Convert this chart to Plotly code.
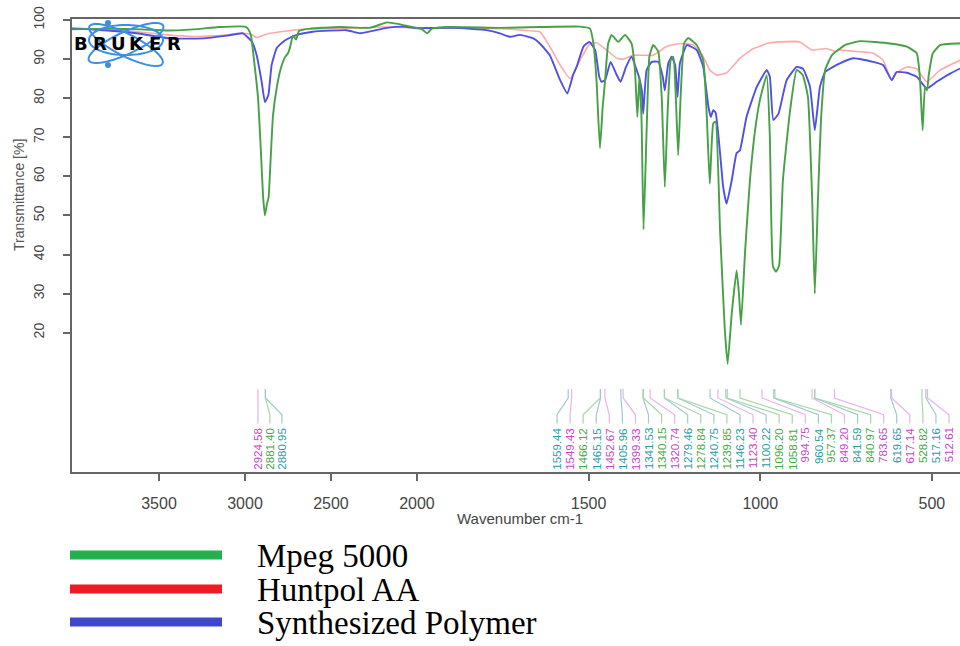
import numpy as np
import plotly.graph_objects as go

# ---------------- data ----------------
mpeg_wn = [4006, 3800, 3600, 3450, 3300, 3150, 3000, 2983, 2965, 2948,
           2924, 2907, 2895, 2884, 2872, 2863, 2849, 2837, 2814, 2791,
           2767, 2750, 2738, 2721, 2703, 2686, 2622, 2448, 2273, 2174,
           2110, 2070, 2000,
           1985, 1971, 1956, 1904, 1758, 1642, 1525, 1496, 1486, 1477,
           1467, 1459, 1452, 1443, 1433, 1414, 1394, 1375, 1365, 1358,
           1352, 1346, 1340, 1331, 1323, 1312, 1297, 1287, 1278, 1270,
           1261, 1253, 1246, 1239, 1232, 1222, 1210, 1185, 1166, 1156,
           1147, 1137, 1130, 1117, 1103, 1095, 1083, 1069, 1062, 1056,
           1044, 1030, 1015, 1001, 981, 972, 963, 954, 945, 934,
           913, 894, 876, 861, 849, 841, 832, 823, 811, 791,
           753, 710, 622, 573, 544, 535, 527, 520, 514, 509,
           497, 476, 427, 418]
mpeg_t = [97.6, 97.8, 97.6, 97.3, 97.6, 98.2, 98.3, 97.8, 96, 90,
          80, 66, 55, 50, 53, 54.5, 66, 75.6, 83, 87.7,
          90.5, 91.5, 93, 96, 95, 97.2, 97.8, 98.2, 98.0, 99.4,
          99.0, 98.6, 98.0,
          97.6, 96.6, 97.8, 98.2, 98.0, 98.2, 98.3, 97.8, 94, 84.6,
          67.2, 77.7, 84.6, 94, 96.2, 94.4, 96.2, 94, 87.2, 75.2,
          85.5, 75, 46.4, 71.8, 90.6, 93.6, 91.9, 80.3, 57.3, 76,
          89.7, 90.6, 80.3, 65.4, 80.3, 94, 95.4, 93.6, 89.7, 76,
          58.1, 73.5, 74, 46, 20.5, 12, 24.9, 35.9, 30, 22,
          41, 59, 71.8, 79.5, 85.9, 70, 37, 35.6, 37.2, 59,
          76.9, 87.2, 85.9, 80.3, 55, 30, 53.8, 74.4, 87.2, 91,
          93.6, 94.6, 94, 93.2, 91.5, 85.5, 71.8, 82.9, 82, 86,
          91.5, 93.6, 94, 94]

synth_wn = [4006, 3900, 3800, 3628, 3436, 3244, 3105, 3012, 2959, 2932,
            2903, 2884, 2864, 2845, 2816, 2779, 2750, 2699, 2605, 2409,
            2331, 2176, 2081, 2000,
            1894, 1797, 1758, 1729, 1700, 1661, 1642, 1613, 1583, 1562,
            1545, 1535, 1515, 1498, 1481, 1469, 1462, 1452, 1436, 1420,
            1407, 1391, 1375, 1360, 1352, 1345, 1341, 1331, 1316, 1297,
            1284, 1278, 1268, 1258, 1248, 1241, 1234, 1214, 1185, 1166,
            1151, 1144, 1137, 1130, 1117, 1108, 1098, 1083, 1069, 1059,
            1040, 1010, 981, 972, 962, 947, 923, 894, 875, 855,
            841, 826, 811, 768, 729, 671, 642, 617, 603, 573,
            544, 515, 486, 447, 418]
synth_t = [97.8, 97.6, 97.3, 96.6, 95.3, 95.3, 96.0, 96.6, 94.4, 91,
           84.2, 79, 80.8, 88.5, 92.8, 94.4, 95.2, 96.2, 97.0, 97.4,
           96.6, 98.0, 98.3, 97.9,
           98.0, 97.4, 96.6, 95.7, 96.2, 95.3, 94.0, 91.0, 84.6, 81.2,
           86, 88, 93.2, 94.4, 92.3, 85.5, 84.2, 84.6, 89.3, 86.3,
           84.2, 88, 90.6, 87.2, 85, 82, 76, 87.2, 89.3, 89.3,
           85.5, 82, 88.9, 90.6, 88.5, 80.3, 88.9, 93.6, 92.3, 88,
           77.8, 75.2, 76.9, 76.3, 65.9, 57.3, 53, 59, 65.9, 66.7,
           75.2, 82.9, 87.2, 85.5, 74.4, 76, 84.6, 88, 87.5, 82.9,
           71.8, 82.9, 86.7, 88.9, 90.2, 89.3, 88.5, 84.6, 86.7, 86.5,
           85.5, 82.5, 84.2, 86.3, 87.6]

huntpol_wn = [4006, 3800, 3628, 3453, 3300, 3150, 3012, 2960, 2932, 2900,
              2855, 2758, 2650, 2400, 2200, 2000,
              1900, 1750, 1680, 1642, 1613, 1583, 1554, 1525, 1496, 1477,
              1447, 1418, 1399, 1370, 1312, 1273, 1234, 1195, 1166, 1147,
              1127, 1098, 1059, 1020, 995, 981, 943, 884, 865, 849,
              807, 783, 768, 710, 671, 642, 617, 603, 573, 544,
              515, 476, 418]
huntpol_t = [98.0, 97.5, 97.0, 96.2, 95.8, 96.0, 96.6, 96.2, 95.5, 96.0,
             96.6, 97.2, 97.7, 97.9, 98.2, 98.0,
             98.0, 97.8, 97.3, 97.0, 93.2, 88.5, 85.0, 89.7, 94.0, 94.2,
             92.3, 90.2, 90.0, 91.0, 91.0, 93.2, 94.0, 93.6, 90.6, 87.2,
             85.9, 86.5, 90.2, 92.7, 93.5, 94.0, 94.4, 94.4, 93.2, 92.3,
             92.7, 92.0, 92.3, 91.9, 91.5, 89.7, 84.6, 86.5, 88, 87.5,
             84.2, 87.2, 89.7]

series_names = ["Mpeg 5000", "Huntpol AA", "Synthesized Polymer"]

left_peak_labels = ["2924.58", "2881.40", "2880.95"]
left_peak_series = ["h", "m", "s"]
right_peak_labels = ["1559.44", "1549.43", "1466.12", "1465.15", "1452.67",
                     "1405.96", "1399.33", "1341.53", "1340.15", "1320.74",
                     "1279.46", "1278.84", "1240.75", "1239.85", "1146.23",
                     "1123.40", "1100.22", "1096.20", "1058.81", "994.75",
                     "960.54", "957.37", "849.20", "841.59", "840.97",
                     "783.65", "619.65", "617.14", "528.82", "517.16",
                     "512.61"]
right_peak_series = ["s", "h", "m", "s", "h",
                     "s", "h", "s", "m", "h",
                     "s", "m", "s", "m", "s",
                     "h", "s", "m", "m", "h",
                     "s", "m", "h", "s", "m",
                     "h", "s", "h", "m", "s",
                     "h"]

x_ticks_left = [3500, 3000, 2500, 2000]
x_ticks_right = [1500, 1000, 500]
y_ticks = [20, 30, 40, 50, 60, 70, 80, 90, 100]

# ---------------- styling ----------------
line_col = {"m": "rgb(70,160,70)", "h": "rgb(255,170,170)", "s": "rgb(80,80,230)"}
label_col = {"m": "#45a845", "h": "#c645c6", "s": "#2c9aa6"}
conn_col = {"m": "#a6d6a6", "h": "#e9b3e9", "s": "#a0c9cf"}
legend_col = {"m": "#22b14c", "h": "#ed1c24", "s": "#3f48cc"}

PL, PR, PT, PB = 72, 960, 19, 472          # plot area in pixels
SPLIT = 417                                  # pixel of the 2000 cm-1 break
W, H = 960, 646


def px(xp):
    return (xp - PL) / (PR - PL)


def py(yp):
    return (PB - yp) / (PB - PT)


fig = go.Figure()

for key, wn, t in [("h", huntpol_wn, huntpol_t), ("s", synth_wn, synth_t), ("m", mpeg_wn, mpeg_t)]:
    wn = np.array(wn, float)
    t = np.array(t, float)
    lm = wn >= 2000
    rm = wn <= 2000
    w = 1.6 if key == "h" else 1.9
    fig.add_trace(go.Scatter(x=wn[lm], y=t[lm], mode="lines", xaxis="x", yaxis="y",
                             line=dict(color=line_col[key], width=w, shape="spline", smoothing=0.4),
                             hoverinfo="skip", showlegend=False))
    fig.add_trace(go.Scatter(x=wn[rm], y=t[rm], mode="lines", xaxis="x2", yaxis="y",
                             line=dict(color=line_col[key], width=w, shape="spline", smoothing=0.4),
                             hoverinfo="skip", showlegend=False))

shapes = []
annotations = []

# peak pickers (connector + rotated label)
Y_TOP, Y_B1, Y_B2, Y_BOT, Y_LAB = 5.6, 3.3, -1.0, -3.2, -3.8


def add_peaks(labels, series, slots, xref):
    for lab, s, slot in zip(labels, series, slots):
        pk = float(lab)
        shapes.append(dict(type="path", xref=xref, yref="y",
                           path=f"M {pk},{Y_TOP} L {pk},{Y_B1} L {slot},{Y_B2} L {slot},{Y_BOT}",
                           line=dict(color=conn_col[s], width=1.2), layer="above"))
        annotations.append(dict(x=slot, y=Y_LAB, xref=xref, yref="y", text=lab,
                                textangle=-90, showarrow=False, xanchor="center", yanchor="top",
                                font=dict(family="Liberation Sans", size=11.5, color=label_col[s])))


left_slots = [2924.58, 2855, 2785]
right_slots = np.linspace(1592, 450, len(right_peak_labels))
add_peaks(left_peak_labels, left_peak_series, left_slots, "x")
add_peaks(right_peak_labels, right_peak_series, right_slots, "x2")

# Bruker logo
def ellipse_path(cx, cy, a, b, ang, n=72):
    th = np.linspace(0, 2 * np.pi, n)
    ca, sa = np.cos(np.radians(ang)), np.sin(np.radians(ang))
    xs = cx + a * np.cos(th) * ca - b * np.sin(th) * sa
    ys = cy + a * np.cos(th) * sa + b * np.sin(th) * ca
    pts = [f"{px(x):.5f},{py(y):.5f}" for x, y in zip(xs, ys)]
    return "M " + " L ".join(pts) + " Z"


logo_blue = "#3d8fe3"
for (cx, cy, a, b, ang) in [(126, 45, 41, 11, 27), (126, 43, 41, 11, -25), (126, 40, 37, 15, 0)]:
    shapes.append(dict(type="path", xref="paper", yref="paper", path=ellipse_path(cx, cy, a, b, ang),
                       line=dict(color=logo_blue, width=2), fillcolor="rgba(0,0,0,0)", layer="above"))
for (dx, dy) in [(108, 23), (108, 65)]:
    shapes.append(dict(type="circle", xref="paper", yref="paper",
                       x0=px(dx - 3), x1=px(dx + 3), y0=py(dy + 3), y1=py(dy - 3),
                       fillcolor=logo_blue, line=dict(width=0), layer="above"))
for i, ch in enumerate("BRUKER"):
    annotations.append(dict(x=px(81 + 18.6 * i), y=py(44), xref="paper", yref="paper", text=f"<b>{ch}</b>",
                            showarrow=False, xanchor="center", yanchor="middle",
                            font=dict(family="DejaVu Sans", size=18, color="black")))

# axis titles
annotations.append(dict(x=px(520), y=py(518), xref="paper", yref="paper", text="Wavenumber cm-1",
                        showarrow=False, xanchor="center", yanchor="middle",
                        font=dict(family="Liberation Sans", size=15, color="#444")))
annotations.append(dict(x=px(19), y=py(195), xref="paper", yref="paper", text="Transmittance [%]",
                        textangle=-90, showarrow=False, xanchor="center", yanchor="middle",
                        font=dict(family="Liberation Sans", size=14, color="#555")))

# custom legend
for (key, name, ly) in [("m", series_names[0], 555), ("h", series_names[1], 589), ("s", series_names[2], 622)]:
    shapes.append(dict(type="line", xref="paper", yref="paper", x0=px(70), x1=px(222), y0=py(ly), y1=py(ly),
                       line=dict(color=legend_col[key], width=9)))
    annotations.append(dict(x=px(255), y=py(ly + 1), xref="paper", yref="paper", text=name,
                            showarrow=False, xanchor="left", yanchor="middle",
                            font=dict(family="Liberation Serif", size=33, color="black")))

axis_common = dict(showgrid=False, zeroline=False, showline=True, linecolor="#666", linewidth=1.5,
                   ticks="outside", ticklen=7, tickwidth=1.5, tickcolor="#666", mirror=True,
                   tickfont=dict(family="Liberation Sans", size=16, color="#444"),
                   ticklabelstandoff=9, automargin=False)

split_frac = (SPLIT - PL) / (PR - PL)
fig.update_layout(
    width=W, height=H, autosize=False,
    margin=dict(l=PL, r=W - PR, t=PT, b=H - PB, pad=0, autoexpand=False),
    paper_bgcolor="white", plot_bgcolor="white",
    showlegend=False,
    xaxis=dict(domain=[0, split_frac], range=[4006, 1999.6], tickvals=x_ticks_left,
               ticktext=[str(v) for v in x_ticks_left], anchor="y", **axis_common),
    xaxis2=dict(domain=[split_frac, 1], range=[2000, 418], tickvals=x_ticks_right,
                ticktext=[str(v) for v in x_ticks_right], anchor="y", **axis_common),
    yaxis=dict(range=[-15.64, 100.26], tickvals=y_ticks, tickangle=-90, anchor="x",
               showgrid=False, zeroline=False, showline=True, linecolor="#666", linewidth=1.5,
               ticks="outside", ticklen=7, tickwidth=1.5, tickcolor="#666",
               tickfont=dict(family="Liberation Sans", size=14, color="#444"),
               ticklabelstandoff=14, automargin=False),
    shapes=shapes,
    annotations=annotations,
)

fig.write_html("out.html", config={"displayModeBar": False},
               post_script="document.body.style.margin='0';document.body.style.overflow='hidden';")
